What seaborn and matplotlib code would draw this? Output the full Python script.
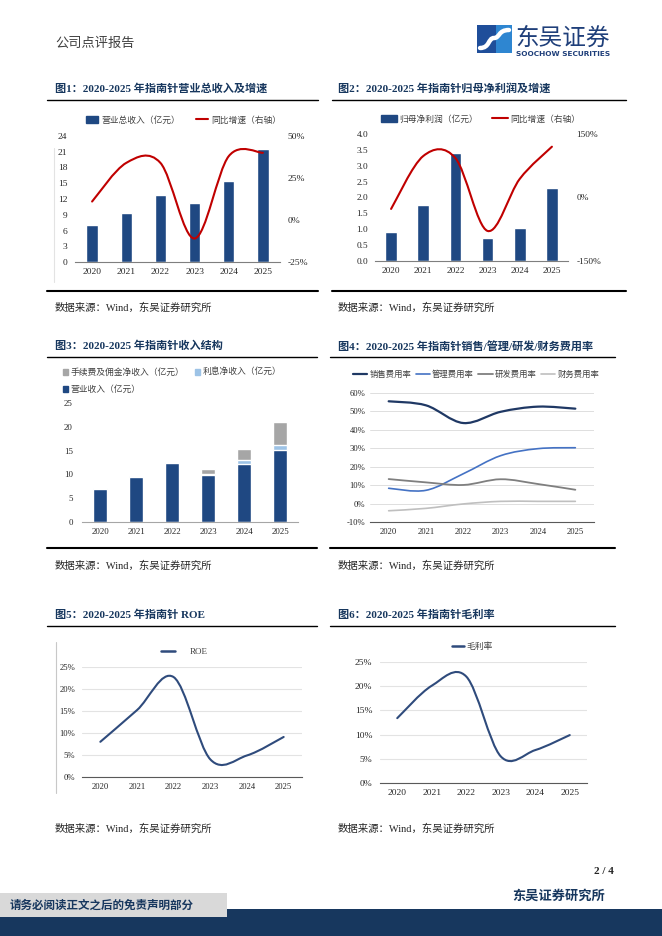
import numpy as np
import pandas as pd
import matplotlib
matplotlib.use("Agg")
import matplotlib.pyplot as plt
import seaborn as sns
from matplotlib.path import Path
from matplotlib.patches import PathPatch, Patch, Rectangle
from matplotlib.lines import Line2D
from matplotlib.ticker import FuncFormatter

# ---------------- data ----------------
years = ["2020", "2021", "2022", "2023", "2024", "2025"]
revenue_total = [7.1, 9.4, 12.7, 11.2, 15.4, 21.6]          # 营业总收入（亿元）
revenue_growth = [11, 34, 34, -11, 38, 40]                   # 同比增速 %
net_profit = [0.90, 1.76, 3.40, 0.73, 1.05, 2.30]            # 归母净利润（亿元）
profit_growth = [-27, 98, 93, -79, 44, 120]                  # 同比增速 %
op_income = [6.9, 9.35, 12.3, 9.9, 12.1, 15.1]               # 营业收入（亿元）
interest_income = [0.3, 0.3, 0.2, 0.1, 0.9, 1.1]             # 利息净收入（亿元）
fee_income = [0.0, 0.0, 0.05, 1.2, 2.35, 4.9]                # 手续费及佣金净收入（亿元）
selling_rate = [55.5, 53.3, 43.7, 49.8, 52.6, 51.5]          # 销售费用率 %
admin_rate = [8.3, 7.2, 16.2, 26.0, 29.8, 30.3]              # 管理费用率 %
rd_rate = [13.3, 11.5, 10.1, 13.2, 10.6, 7.5]                # 研发费用率 %
fin_rate = [-3.9, -2.6, -0.2, 1.2, 1.2, 1.2]                 # 财务费用率 %
roe = [8.0, 15.2, 22.7, 4.0, 4.9, 9.1]                       # ROE %
gross_margin = [13.4, 20.1, 22.0, 5.5, 6.8, 9.9]             # 毛利率 %

titles = [
    "图1：2020-2025 年指南针营业总收入及增速",
    "图2：2020-2025 年指南针归母净利润及增速",
    "图3：2020-2025 年指南针收入结构",
    "图4：2020-2025 年指南针销售/管理/研发/财务费用率",
    "图5：2020-2025 年指南针 ROE",
    "图6：2020-2025 年指南针毛利率",
]
source_text = "数据来源：Wind，东吴证券研究所"

# ---------------- style ----------------
sns.set_theme(style="white")
SERIF_CJK = ["Liberation Serif", "Noto Sans CJK SC"]
plt.rcParams["font.family"] = SERIF_CJK
plt.rcParams["axes.unicode_minus"] = False

NAVY = "#17375E"
BAR = "#1F4882"
RED = "#C00000"
LBLUE = "#9DC3E6"
GREY_BAR = "#A6A6A6"
TICKC = "#262626"
CJK = {"family": ["Noto Sans CJK SC", "DejaVu Sans"], "size": 6.3}

W, H = 662, 936
fig = plt.figure(figsize=(W / 100, H / 100), dpi=100)
fig.patch.set_facecolor("white")


def fx(x):
    return x / W


def fy(y):
    return 1 - y / H


def axes_px(x0, y0, x1, y1):
    return fig.add_axes([x0 / W, 1 - y1 / H, (x1 - x0) / W, (y1 - y0) / H])


def smooth_path(xs, ys):
    P = np.column_stack([np.asarray(xs, float), np.asarray(ys, float)])
    n = len(P)
    verts, codes = [P[0]], [Path.MOVETO]
    for i in range(n - 1):
        p0 = P[i - 1] if i > 0 else P[i]
        p1, p2 = P[i], P[i + 1]
        p3 = P[i + 2] if i + 2 < n else P[i + 1]
        verts += [p1 + (p2 - p0) / 6, p2 - (p3 - p1) / 6, p2]
        codes += [Path.CURVE4] * 3
    return Path(verts, codes)


def add_smooth(ax, ys, color, lw):
    ax.add_patch(PathPatch(smooth_path(np.arange(len(ys)), ys), facecolor="none",
                           edgecolor=color, lw=lw, transform=ax.transData,
                           capstyle="round", joinstyle="round", zorder=5))


def base_style(ax, spine_color="#7F7F7F", xpad=4, ypad=5.5, size=6.5):
    for s in ax.spines.values():
        s.set_visible(False)
    ax.spines["bottom"].set_visible(True)
    ax.spines["bottom"].set_color(spine_color)
    ax.spines["bottom"].set_linewidth(0.8)
    ax.tick_params(axis="both", length=0, colors=TICKC, labelsize=size)
    ax.tick_params(axis="x", pad=xpad)
    ax.tick_params(axis="y", pad=ypad)
    ax.set_xlabel("")
    ax.set_ylabel("")
    ax.set_facecolor("none")


def pct(v, p):
    return f"{v:.0f}%"


x_idx = np.arange(len(years))

# ---------------- chart 1 ----------------
ax1 = axes_px(75, 136, 280, 262)
df1 = pd.DataFrame({"year": years, "v": revenue_total})
sns.barplot(data=df1, x="year", y="v", color=BAR, width=0.33, saturation=1, ax=ax1)
ax1.set_ylim(0, 24)
ax1.set_yticks(np.arange(0, 25, 3))
ax1.set_xlim(-0.5, 5.5)
base_style(ax1, ypad=5.5, size=6.8)
ax1b = ax1.twinx()
ax1b.set_ylim(-25, 50)
ax1b.set_yticks([-25, 0, 25, 50])
ax1b.yaxis.set_major_formatter(FuncFormatter(pct))
for s in ax1b.spines.values():
    s.set_visible(False)
ax1b.tick_params(axis="y", length=0, colors=TICKC, labelsize=6.8, pad=5.5)
add_smooth(ax1b, revenue_growth, RED, 1.5)
fig.legend([Patch(color=BAR), Line2D([], [], color=RED, lw=1.5)],
           ["营业总收入（亿元）", "同比增速（右轴）"], loc="center left",
           bbox_to_anchor=(fx(86), fy(120)), ncol=2, frameon=False, prop=CJK,
           handlelength=1.4, handleheight=0.7, handletextpad=0.35, columnspacing=1.8,
           borderpad=0, borderaxespad=0, labelcolor="#404040")

# ---------------- chart 2 ----------------
ax2 = axes_px(375, 134, 568, 261)
df2 = pd.DataFrame({"year": years, "v": net_profit})
sns.barplot(data=df2, x="year", y="v", color=BAR, width=0.36, saturation=1, ax=ax2)
ax2.set_ylim(0, 4)
ax2.set_yticks(np.arange(0, 4.01, 0.5))
ax2.yaxis.set_major_formatter(FuncFormatter(lambda v, p: f"{v:.1f}"))
ax2.set_xlim(-0.5, 5.5)
base_style(ax2, ypad=5, size=6.7)
ax2b = ax2.twinx()
ax2b.set_ylim(-150, 150)
ax2b.set_yticks([-150, 0, 150])
ax2b.yaxis.set_major_formatter(FuncFormatter(pct))
for s in ax2b.spines.values():
    s.set_visible(False)
ax2b.tick_params(axis="y", length=0, colors=TICKC, labelsize=6.7, pad=6)
add_smooth(ax2b, profit_growth, RED, 1.5)
fig.legend([Patch(color=BAR), Line2D([], [], color=RED, lw=1.5)],
           ["归母净利润（亿元）", "同比增速（右轴）"], loc="center left",
           bbox_to_anchor=(fx(381), fy(119)), ncol=2, frameon=False, prop=CJK,
           handlelength=1.8, handleheight=0.7, handletextpad=0.3, columnspacing=1.6,
           borderpad=0, borderaxespad=0, labelcolor="#404040")

# ---------------- chart 3 ----------------
ax3 = axes_px(82, 403, 298, 522)
op_arr = np.array(op_income)
lvl2 = op_arr + np.array(interest_income)
lvl3 = lvl2 + np.array(fee_income)
df3 = pd.DataFrame({"year": years, "total": lvl3, "mid": lvl2, "op": op_arr})
sns.barplot(data=df3, x="year", y="total", color=GREY_BAR, width=0.39, saturation=1, ax=ax3)
sns.barplot(data=df3, x="year", y="mid", color=LBLUE, width=0.39, saturation=1, ax=ax3)
sns.barplot(data=df3, x="year", y="op", color=BAR, width=0.39, saturation=1, ax=ax3)
ax3.set_ylim(0, 25)
ax3.set_yticks(np.arange(0, 26, 5))
ax3.set_xlim(-0.5, 5.5)
base_style(ax3, spine_color="#A6A6A6", ypad=6.5, size=6.4)
h_fee = Patch(color=GREY_BAR)
h_int = Patch(color=LBLUE)
h_op = Patch(color=BAR)
fig.legend([h_fee, h_op, h_int],
           ["手续费及佣金净收入（亿元）", "营业收入（亿元）", "利息净收入（亿元）"],
           loc="upper left", bbox_to_anchor=(fx(63), fy(368)), ncol=2, frameon=False,
           prop=CJK, handlelength=0.6, handleheight=0.6, handletextpad=0.3,
           columnspacing=1.2, labelspacing=0.9, borderpad=0, borderaxespad=0,
           labelcolor="#404040")

# ---------------- chart 4 ----------------
ax4 = axes_px(370, 393, 594, 522)
ax4.set_xlim(-0.5, 5.5)
ax4.set_ylim(-10, 60)
ax4.set_yticks(np.arange(-10, 61, 10))
ax4.yaxis.set_major_formatter(FuncFormatter(pct))
ax4.set_xticks(x_idx)
ax4.set_xticklabels(years)
ax4.yaxis.grid(True, color="#D9D9D9", lw=0.6)
ax4.set_axisbelow(True)
base_style(ax4, spine_color="#595959", ypad=3.5, size=6.2)
c4 = ["#1F3864", "#4472C4", "#7F7F7F", "#BFBFBF"]
lw4 = [1.6, 1.2, 1.3, 1.2]
series4 = [selling_rate, admin_rate, rd_rate, fin_rate]
for ys, c, lw in zip(series4, c4, lw4):
    add_smooth(ax4, ys, c, lw)
fig.legend([Line2D([], [], color=c, lw=lw) for c, lw in zip(c4, lw4)],
           ["销售费用率", "管理费用率", "研发费用率", "财务费用率"], loc="center left",
           bbox_to_anchor=(fx(353), fy(374)), ncol=4, frameon=False,
           prop={"family": ["Noto Sans CJK SC", "DejaVu Sans"], "size": 6.0},
           handlelength=1.7, handletextpad=0.25, columnspacing=0.55,
           borderpad=0, borderaxespad=0, labelcolor="#404040")

# ---------------- chart 5 ----------------
ax5 = axes_px(82, 667, 302, 777)
ax5.set_xlim(-0.5, 5.5)
ax5.set_ylim(0, 25)
ax5.set_yticks(np.arange(0, 26, 5))
ax5.yaxis.set_major_formatter(FuncFormatter(pct))
ax5.set_xticks(x_idx)
ax5.set_xticklabels(years)
ax5.yaxis.grid(True, color="#E3E3E3", lw=0.8)
ax5.set_axisbelow(True)
base_style(ax5, spine_color="#595959", ypad=5, size=6.2)
LINE56 = "#2F4B7C"
add_smooth(ax5, roe, LINE56, 1.5)
fig.legend([Line2D([], [], color=LINE56, lw=1.8)], ["ROE"], loc="center left",
           bbox_to_anchor=(fx(161), fy(652)), frameon=False,
           prop={"family": ["Liberation Serif"], "size": 6.5},
           handlelength=1.6, handletextpad=1.6, borderpad=0, borderaxespad=0,
           labelcolor="#404040")

# ---------------- chart 6 ----------------
ax6 = axes_px(380, 662, 587, 783)
ax6.set_xlim(-0.5, 5.5)
ax6.set_ylim(0, 25)
ax6.set_yticks(np.arange(0, 26, 5))
ax6.yaxis.set_major_formatter(FuncFormatter(pct))
ax6.set_xticks(x_idx)
ax6.set_xticklabels(years)
ax6.yaxis.grid(True, color="#E3E3E3", lw=0.8)
ax6.set_axisbelow(True)
base_style(ax6, spine_color="#595959", ypad=5.5, size=6.8)
add_smooth(ax6, gross_margin, LINE56, 1.5)
fig.legend([Line2D([], [], color=LINE56, lw=1.8)], ["毛利率"], loc="center left",
           bbox_to_anchor=(fx(452), fy(647)), frameon=False, prop=CJK,
           handlelength=1.4, handletextpad=0.25, borderpad=0, borderaxespad=0,
           labelcolor="#404040")

# ---------------- page decorations ----------------
fig.text(fx(55), fy(43), "公司点评报告", fontsize=9.5, color="#404040", va="center",
         family=["Noto Sans CJK SC"])

# logo
fig.add_artist(Rectangle((fx(477), fy(53)), 35 / W, 28 / H, transform=fig.transFigure,
                         facecolor="#1F4E9A", edgecolor="none"))
fig.add_artist(Rectangle((fx(496), fy(53)), 16 / W, 28 / H, transform=fig.transFigure,
                         facecolor="#2E86D1", edgecolor="none"))
s_verts = [(fx(480), fy(48)), (fx(490), fy(48)), (fx(488), fy(38)), (fx(494), fy(38)),
           (fx(500), fy(38)), (fx(498), fy(30)), (fx(509), fy(30))]
s_codes = [Path.MOVETO, Path.CURVE4, Path.CURVE4, Path.CURVE4, Path.CURVE4, Path.CURVE4,
           Path.CURVE4]
fig.add_artist(PathPatch(Path(s_verts, s_codes), facecolor="none", edgecolor="white",
                         lw=3.2, transform=fig.transFigure, capstyle="round"))
fig.text(fx(515), fy(38), "东吴证券", fontsize=17, color="#1F3F7A", va="center",
         family=["Noto Sans CJK SC"], weight="medium")
fig.text(fx(516), fy(54), "SOOCHOW SECURITIES", fontsize=5.3, color="#1F3F7A", va="center",
         family=["DejaVu Sans"], weight="bold")

# titles
title_pos = [(55, 88), (338, 88), (55, 346), (338, 346), (55, 615), (338, 615)]
for (tx, ty), t in zip(title_pos, titles):
    fig.text(fx(tx), fy(ty), t, fontsize=8, weight="bold", color=NAVY, va="center",
             family=SERIF_CJK)


def hline(x0, x1, y, lw):
    fig.add_artist(Line2D([fx(x0), fx(x1)], [fy(y), fy(y)], transform=fig.transFigure,
                          color="black", lw=lw))


hline(47, 318, 100, 1.0)
hline(332, 626, 100, 1.0)
hline(47, 318, 291, 1.5)
hline(332, 626, 291, 1.5)
hline(47, 317, 357, 1.0)
hline(330, 615, 357, 1.0)
hline(47, 317, 548, 1.5)
hline(330, 615, 548, 1.5)
hline(47, 317, 626, 1.0)
hline(330, 615, 626, 1.0)

# faint chart borders
fig.add_artist(Line2D([fx(54), fx(54)], [fy(148), fy(282)], transform=fig.transFigure,
                      color="#E3E3E3", lw=0.8))
fig.add_artist(Line2D([fx(56), fx(56)], [fy(642), fy(793)], transform=fig.transFigure,
                      color="#C8C8C8", lw=0.8))

# sources
for sx, sy in [(55, 308), (338, 308), (55, 566), (338, 566), (55, 829), (338, 829)]:
    fig.text(fx(sx), fy(sy), source_text, fontsize=7.5, color="#262626", va="center",
             family=SERIF_CJK)

# footer
fig.text(fx(614), fy(872), "2 / 4", fontsize=8, weight="bold", color="#262626",
         ha="right", va="center", family=SERIF_CJK)
fig.text(fx(512), fy(896), "东吴证券研究所", fontsize=9.5, weight="bold", color=NAVY,
         va="center", family=["Noto Sans CJK SC"])
fig.add_artist(Rectangle((0, fy(936)), 1, 27 / H, transform=fig.transFigure,
                         facecolor="#17375E", edgecolor="none"))
fig.add_artist(Rectangle((0, fy(917)), 227 / W, 24 / H, transform=fig.transFigure,
                         facecolor="#D9D9D9", edgecolor="none"))
fig.text(fx(10), fy(905), "请务必阅读正文之后的免责声明部分", fontsize=8.3, weight="bold",
         color=NAVY, va="center", family=["Noto Sans CJK SC"])

fig.savefig("out.png", dpi=100)
